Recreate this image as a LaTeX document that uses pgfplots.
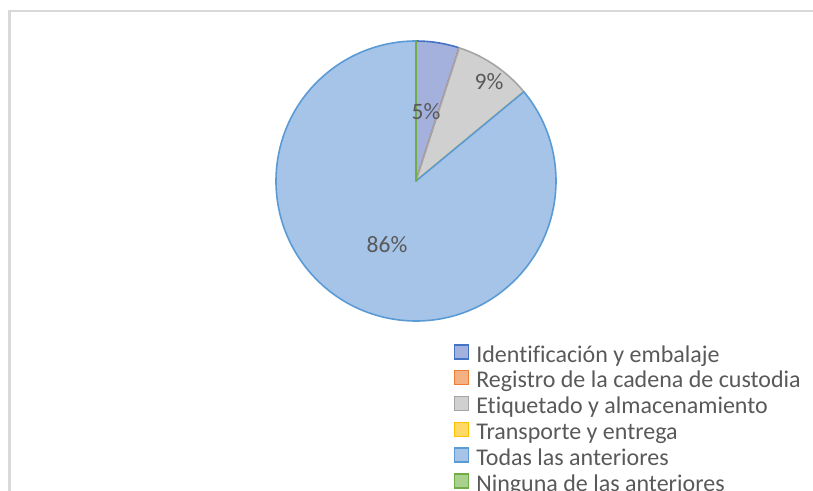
\documentclass[border=0pt]{standalone}
\usepackage{pgfplots}
\pgfplotsset{compat=1.18}
\usepackage{pgfplotstable}
\usepackage{fontspec}
\setmainfont{Carlito}[Ligatures=NoCommon]

\definecolor{txtgray}{HTML}{595959}
\definecolor{bordergray}{HTML}{D9D9D9}
\definecolor{c1d}{HTML}{4472C4}\definecolor{c1f}{RGB}{165,177,221}
\definecolor{c2d}{HTML}{ED7D31}\definecolor{c2f}{RGB}{244,177,131}
\definecolor{c3d}{HTML}{A5A5A5}\definecolor{c3f}{RGB}{208,208,208}
\definecolor{c4d}{HTML}{FFC000}\definecolor{c4f}{RGB}{255,217,102}
\definecolor{c5d}{HTML}{5B9BD5}\definecolor{c5f}{RGB}{166,196,232}
\definecolor{c6d}{HTML}{70AD47}\definecolor{c6f}{RGB}{169,209,142}

% share in percent, fill and border colour of each slice
\pgfplotstableread{
val fc dc
5 c1f c1d
0 c2f c2d
9 c3f c3d
0 c4f c4d
86 c5f c5d
0 c6f c6d
}\piedata

\begin{document}
\begin{tikzpicture}
\useasboundingbox (0,0) rectangle (813bp,491bp);
\clip (0,0) rectangle (813bp,491bp);
\begin{axis}[
  x=1bp, y=1bp,
  xmin=0, xmax=813, ymin=0, ymax=491,
  scale only axis,
  hide axis,
  clip=false,
  legend image code/.code={\draw[#1,line width=1.3bp] (0bp,-2bp) rectangle (14bp,12bp);},
  legend style={
    at={(axis cs:454,147)}, anchor=north west,
    draw=none, fill=none, inner sep=0pt, outer sep=0pt,
    column sep=7bp,
    cells={anchor=west},
    nodes={inner sep=0pt, text height=18bp, text depth=7.8bp, text=txtgray,
           font=\fontsize{24bp}{25.8bp}\selectfont},
  },
]
\addlegendimage{fill=c1f,draw=c1d}
\addlegendentry{Identificación y embalaje}
\addlegendimage{fill=c2f,draw=c2d}
\addlegendentry{Registro de la cadena de custodia}
\addlegendimage{fill=c3f,draw=c3d}
\addlegendentry{Etiquetado y almacenamiento}
\addlegendimage{fill=c4f,draw=c4d}
\addlegendentry{Transporte y entrega}
\addlegendimage{fill=c5f,draw=c5d}
\addlegendentry{Todas las anteriores}
\addlegendimage{fill=c6f,draw=c6d}
\addlegendentry{Ninguna de las anteriores}

\pgfplotsextra{
  % chart area border (cut off right and bottom)
  \draw[bordergray,line width=2.5bp] (axis cs:9.5,-10) -- (axis cs:9.5,480) -- (axis cs:830,480);
  \pgfplotstablegetrowsof{\piedata}
  \pgfmathtruncatemacro\lastrow{\pgfplotsretval-1}
  \xdef\startang{90}
  \foreach \i in {0,...,\lastrow}{
    \pgfplotstablegetelem{\i}{val}\of\piedata \let\pv\pgfplotsretval
    \pgfplotstablegetelem{\i}{fc}\of\piedata \let\pfc\pgfplotsretval
    \pgfplotstablegetelem{\i}{dc}\of\piedata \let\pdc\pgfplotsretval
    \pgfmathsetmacro\endang{\startang-3.6*\pv}
    \filldraw[fill=\pfc, draw=\pdc, line width=1.6bp, line join=round]
      (axis cs:416,310) -- ++(\startang:140bp)
      arc[start angle=\startang, end angle=\endang, radius=140bp] -- cycle;
    \xdef\startang{\endang}
  }
  \begin{scope}[every node/.style={anchor=base, text=txtgray, inner sep=0pt,
      font=\fontsize{23.5bp}{25.8bp}\selectfont}]
    \node at (axis cs:426,372) {5\%};
    \node at (axis cs:489,401) {9\%};
    \node at (axis cs:387,239) {86\%};
  \end{scope}
}
\end{axis}
\end{tikzpicture}
\end{document}
